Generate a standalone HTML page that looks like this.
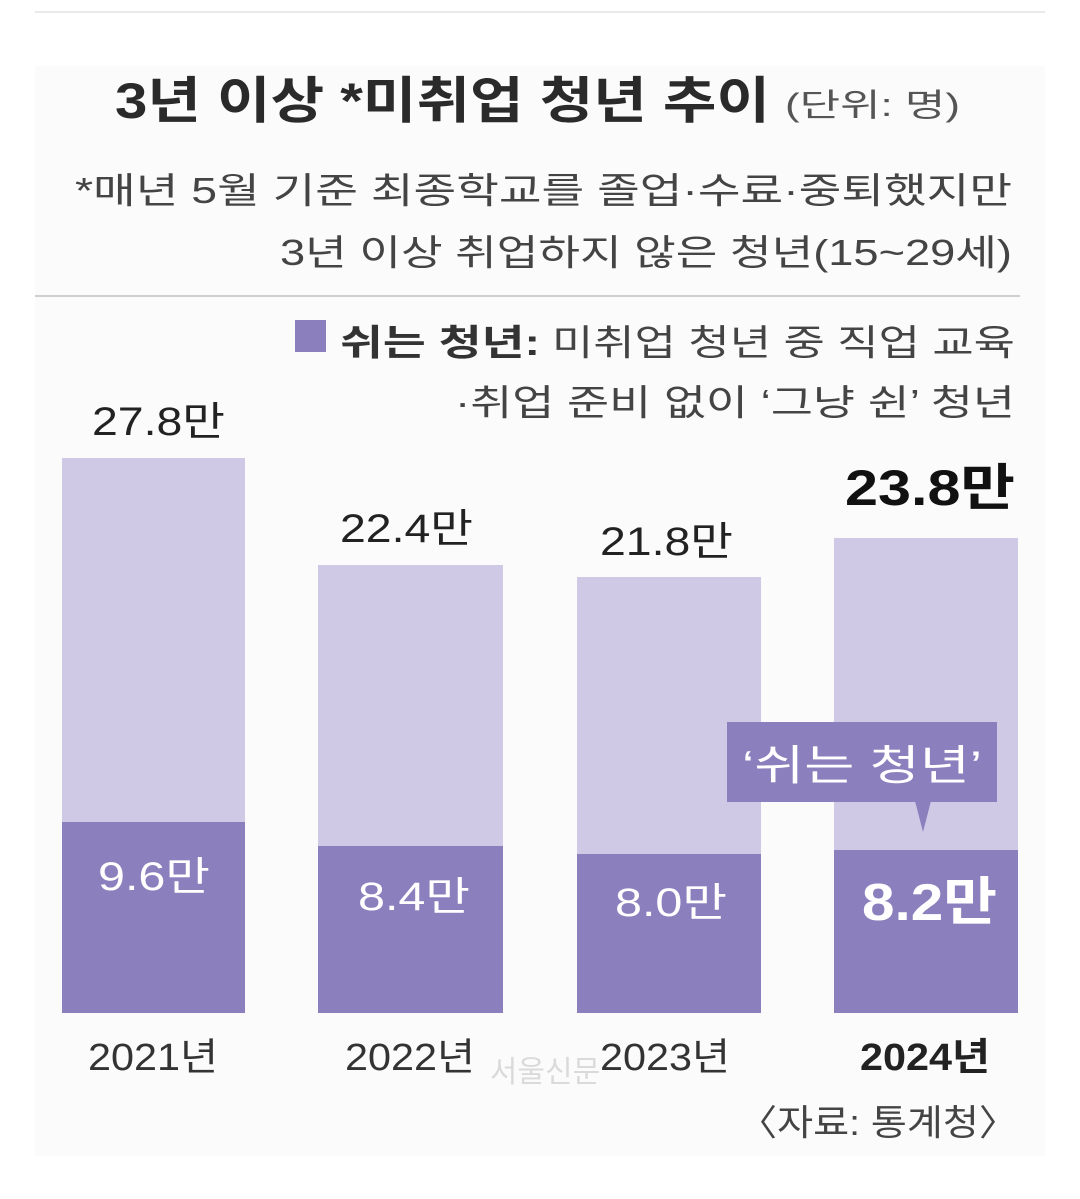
<!DOCTYPE html>
<html><head><meta charset="utf-8"><style>
body{margin:0;background:#fff;}
svg text{font-family:"Liberation Sans","Noto Sans CJK KR",sans-serif;}
</style></head><body>
<svg width="1080" height="1194" xmlns="http://www.w3.org/2000/svg">
<rect x="0" y="0" width="1080" height="1194" fill="#fff"/>
<rect x="35" y="66" width="1010" height="1090" fill="#fbfbfb"/>
<line x1="35" y1="12" x2="1045" y2="12" stroke="#eaeaea" stroke-width="2"/>
<text x="115" y="118" font-size="50" fill="#2a2a2a" font-weight="bold" textLength="655" lengthAdjust="spacingAndGlyphs">3년 이상 *미취업 청년 추이</text>
<text x="785" y="116" font-size="32" fill="#555" textLength="175" lengthAdjust="spacingAndGlyphs">(단위: 명)</text>
<text x="75" y="203" font-size="36" fill="#444" textLength="937" lengthAdjust="spacingAndGlyphs">*매년 5월 기준 최종학교를 졸업·수료·중퇴했지만</text>
<text x="280" y="265" font-size="36" fill="#444" textLength="732" lengthAdjust="spacingAndGlyphs">3년 이상 취업하지 않은 청년(15~29세)</text>
<line x1="35" y1="296" x2="1020" y2="296" stroke="#cfcfcf" stroke-width="2"/>
<rect x="295" y="320" width="31" height="32" fill="#8b80bd"/>
<text x="340" y="355" font-size="36" fill="#333" font-weight="bold" textLength="200" lengthAdjust="spacingAndGlyphs">쉬는 청년:</text>
<text x="552" y="355" font-size="36" fill="#444" textLength="463" lengthAdjust="spacingAndGlyphs">미취업 청년 중 직업 교육</text>
<text x="455" y="415" font-size="36" fill="#444" textLength="560" lengthAdjust="spacingAndGlyphs">·취업 준비 없이 ‘그냥 쉰’ 청년</text>
<g fill="#cfc9e6">
<rect x="62" y="458" width="183" height="555"/>
<rect x="318" y="565" width="185" height="448"/>
<rect x="577" y="577" width="184" height="436"/>
<rect x="834" y="538" width="184" height="475"/>
</g>
<g fill="#8b80bd">
<rect x="62" y="822" width="183" height="191"/>
<rect x="318" y="846" width="185" height="167"/>
<rect x="577" y="854" width="184" height="159"/>
<rect x="834" y="850" width="184" height="163"/>
</g>
<rect x="727" y="722" width="270" height="80" fill="#8b80bd"/>
<polygon points="915,801 931,801 923,832" fill="#8b80bd"/>
<text x="862" y="780" font-size="42" fill="#fff" text-anchor="middle" textLength="240" lengthAdjust="spacingAndGlyphs">‘쉬는 청년’</text>
<g font-size="40" fill="#222">
<text x="92" y="435" textLength="133" lengthAdjust="spacingAndGlyphs">27.8만</text>
<text x="340" y="542" textLength="133" lengthAdjust="spacingAndGlyphs">22.4만</text>
<text x="600" y="555" textLength="133" lengthAdjust="spacingAndGlyphs">21.8만</text>
</g>
<text x="845" y="505" font-size="50" font-weight="bold" fill="#111" textLength="170" lengthAdjust="spacingAndGlyphs">23.8만</text>
<g font-size="40" fill="#fff">
<text x="98" y="890" textLength="112" lengthAdjust="spacingAndGlyphs">9.6만</text>
<text x="358" y="910" textLength="112" lengthAdjust="spacingAndGlyphs">8.4만</text>
<text x="615" y="916" textLength="112" lengthAdjust="spacingAndGlyphs">8.0만</text>
</g>
<text x="862" y="920" font-size="52" font-weight="bold" fill="#fff" textLength="135" lengthAdjust="spacingAndGlyphs">8.2만</text>
<g font-size="38" fill="#333">
<text x="88" y="1070" textLength="130" lengthAdjust="spacingAndGlyphs">2021년</text>
<text x="345" y="1070" textLength="130" lengthAdjust="spacingAndGlyphs">2022년</text>
<text x="600" y="1070" textLength="130" lengthAdjust="spacingAndGlyphs">2023년</text>
<text x="860" y="1070" font-weight="bold" fill="#222" textLength="130" lengthAdjust="spacingAndGlyphs">2024년</text>
</g>
<text x="545" y="1082" font-size="30" fill="#bbb" text-anchor="middle" opacity="0.5">서울신문</text>
<text x="738" y="1135" font-size="36" fill="#444" textLength="280" lengthAdjust="spacingAndGlyphs">〈자료: 통계청〉</text>
</svg>
</body></html>
